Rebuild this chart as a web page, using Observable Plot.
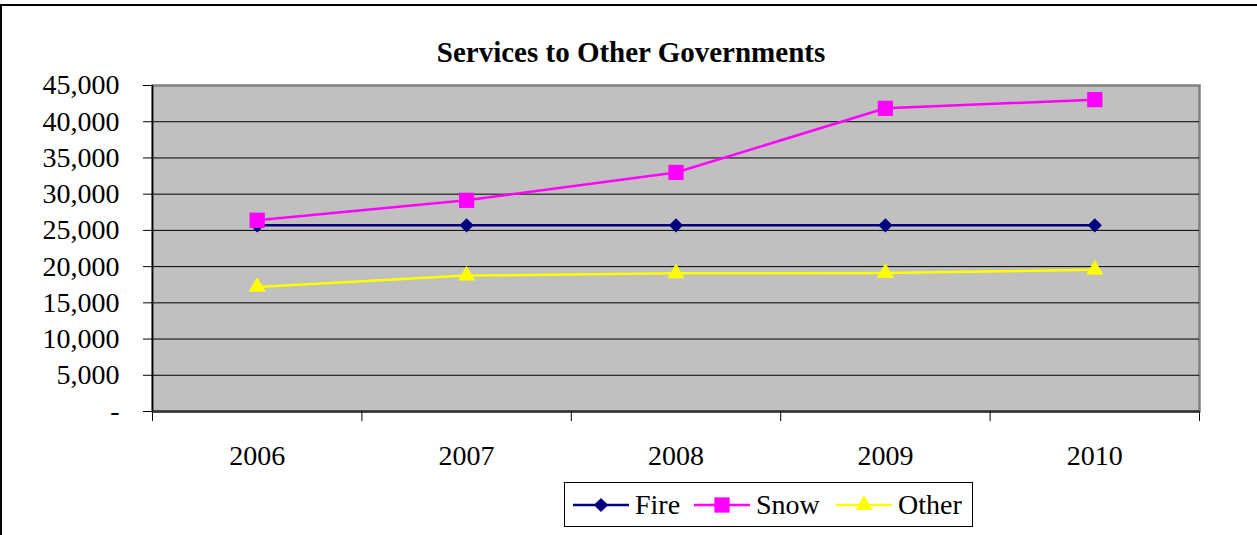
<!DOCTYPE html>
<html>
<head>
<meta charset="utf-8">
<script src="https://cdn.jsdelivr.net/npm/d3@7"></script>
<script src="https://cdn.jsdelivr.net/npm/@observablehq/plot@0.6"></script>
<style>
  html, body { margin: 0; padding: 0; background: #fff; }
  #wrap { position: relative; width: 1257px; height: 535px; overflow: hidden; font-family: "Liberation Serif", "Times New Roman", serif; }
  #border { position: absolute; left: 0; top: 4px; width: 1300px; height: 600px; border-left: 2px solid #000; border-top: 2px solid #000; box-sizing: border-box; }
  #title { position: absolute; left: 0; width: 1262px; top: 35px; text-align: center; font-weight: bold; font-size: 29px; line-height: 34px; color: #000; }
  #chart { position: absolute; left: 0; top: 0; }
  #legend { position: absolute; left: 564px; top: 482px; width: 409px; height: 45px; border: 1px solid #000; box-sizing: border-box; background: #fff; }
  .item { position: absolute; top: 0; height: 43px; display: flex; align-items: center; font-size: 28px; font-family: "Liberation Serif", "Times New Roman", serif; }
  .item svg { display: block; margin-right: 6px; }
</style>
</head>
<body>
<div id="wrap">
  <div id="border"></div>
  <div id="chart"></div>
  <div id="title"></div>
  <div id="legend"></div>
</div>
<script>
const title = "Services to Other Governments";
const years = [2006, 2007, 2008, 2009, 2010];
const fire  = [25700, 25700, 25700, 25700, 25700];
const snow  = [26400, 29150, 33000, 41850, 43050];
const other = [17200, 18760, 19070, 19120, 19560];
const seriesNames = ["Fire", "Snow", "Other"];
const seriesColors = ["#000080", "#FF00FF", "#FFFF00"];
const seriesSymbols = ["diamond2", "square", "triangle"];
const yTicks = [0, 5000, 10000, 15000, 20000, 25000, 30000, 35000, 40000, 45000];

const seriesValues = [fire, snow, other];
const data = [];
seriesNames.forEach((name, si) => {
  years.forEach((yr, i) => data.push({series: name, year: yr, value: seriesValues[si][i]}));
});

const xDomain = [years[0] - 0.5, years[years.length - 1] + 0.5];
const boundaries = years.map(y => y - 0.5).concat([years[years.length - 1] + 0.5]);
const yDomain = [yTicks[0], yTicks[yTicks.length - 1]];
const symbolR = [6.4, 8.6, 6.4];
const fmt = d3.format(",");

const dotMarks = seriesNames.map((name, i) =>
  Plot.dot(data.filter(d => d.series === name), {x: "year", y: "value", symbol: () => seriesSymbols[i], fill: seriesColors[i], stroke: "none", r: symbolR[i]})
);

const chart = Plot.plot({
  width: 1257,
  height: 535,
  marginLeft: 152,
  marginRight: 58,
  marginTop: 85,
  marginBottom: 124,
  style: {background: "transparent", fontFamily: "'Liberation Serif', 'Times New Roman', serif", fontSize: "28px", color: "#000"},
  x: {type: "linear", domain: xDomain},
  y: {domain: yDomain},
  color: {domain: seriesNames, range: seriesColors},
  symbol: {type: "identity"},
  marks: [
    Plot.frame({fill: "#C0C0C0", stroke: "#808080", strokeWidth: 2.5}),
    Plot.gridY(yTicks.slice(1, -1), {stroke: "#000", strokeOpacity: 1, strokeWidth: 1}),
    Plot.ruleX([xDomain[0]], {stroke: "#000", strokeWidth: 1.5}),
    Plot.ruleY([yDomain[0]], {stroke: "#333", strokeWidth: 2.5}),
    Plot.axisY(yTicks, {tickSize: 9, tickPadding: 24, fontSize: 28, stroke: "#000", tickFormat: d => d === 0 ? "-" : fmt(d), label: null}),
    Plot.axisX(boundaries, {tickSize: 10, tickFormat: () => "", stroke: "#000", label: null}),
    Plot.axisX(years, {tickSize: 0, tickPadding: 34, fontSize: 28, tickFormat: d => String(d), label: null}),
    Plot.line(data, {x: "year", y: "value", z: "series", stroke: "series", strokeWidth: 2.5}),
    ...dotMarks
  ]
});
document.getElementById("chart").appendChild(chart);
document.getElementById("title").textContent = title;

// Legend
const legend = document.getElementById("legend");
const itemLefts = [8, 129, 271];
const symbolPaths = {
  "diamond2": d3.symbol(d3.symbolDiamond2, Math.PI * symbolR[0] * symbolR[0])(),
  "square": d3.symbol(d3.symbolSquare, Math.PI * symbolR[1] * symbolR[1])(),
  "triangle": d3.symbol(d3.symbolTriangle, Math.PI * symbolR[2] * symbolR[2])()
};
seriesNames.forEach((name, i) => {
  const item = document.createElement("div");
  item.className = "item";
  item.style.left = itemLefts[i] + "px";
  const ns = "http://www.w3.org/2000/svg";
  const svg = document.createElementNS(ns, "svg");
  svg.setAttribute("width", 56);
  svg.setAttribute("height", 20);
  const line = document.createElementNS(ns, "line");
  line.setAttribute("x1", 0); line.setAttribute("x2", 56);
  line.setAttribute("y1", 10); line.setAttribute("y2", 10);
  line.setAttribute("stroke", seriesColors[i]); line.setAttribute("stroke-width", 2.5);
  svg.appendChild(line);
  const p = document.createElementNS(ns, "path");
  p.setAttribute("d", symbolPaths[seriesSymbols[i]]);
  p.setAttribute("transform", "translate(28,10)");
  p.setAttribute("fill", seriesColors[i]);
  svg.appendChild(p);
  item.appendChild(svg);
  const t = document.createElement("span");
  t.textContent = name;
  item.appendChild(t);
  legend.appendChild(item);
});
</script>
</body>
</html>
